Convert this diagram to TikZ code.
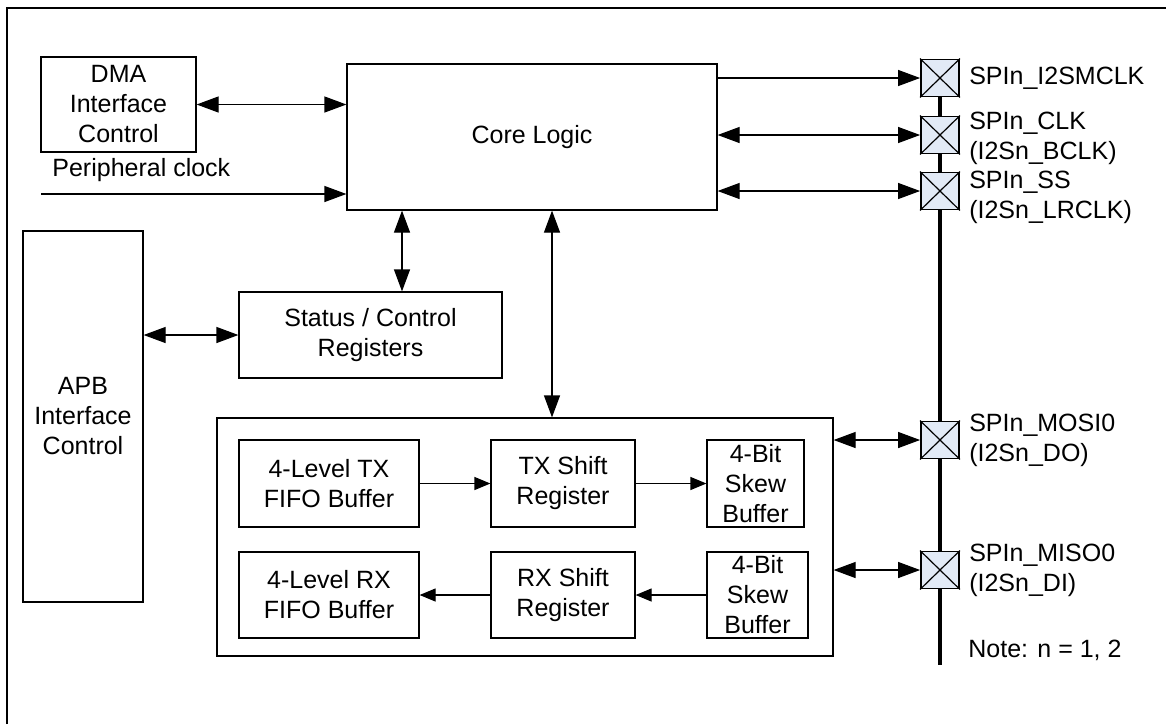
\documentclass[tikz,border=0pt]{standalone}
\usepackage{fontspec}
\setmainfont{Liberation Sans}
\usetikzlibrary{arrows.meta}
\definecolor{pinfill}{RGB}{226,234,246}

\begin{document}
\begin{tikzpicture}[x=0.5pt, y=-0.5pt,
	font=\fontsize{12.5}{15}\selectfont,
	>={Triangle[length=11pt,width=8pt]},
	blk/.style={draw, line width=0.6pt, align=center, inner sep=0pt},
	pin/.style={draw, line width=0.9pt, fill=pinfill, minimum width=19pt, minimum height=18.5pt, inner sep=0pt},
	pinlbl/.style={anchor=west, align=left, inner sep=0pt},
	sig/.style={line width=0.6pt, ->},
	bisig/.style={line width=0.6pt, <->},
	smallhead/.style={>={Triangle[length=8pt,width=6.5pt]}}]

	\useasboundingbox (0,0) rectangle (1166,724);
	% frame
	\draw[line width=1.3pt] (7,724) -- (7,8) -- (1166,8);

	% left side blocks
	\node[blk, minimum width=77.5pt, minimum height=47.5pt] (dma) at (118.5,104.5) {DMA\\Interface\\Control};
	\node[blk, minimum width=60pt, minimum height=185.5pt] (apb) at (83,416.5) {APB\\Interface\\Control};
	\node[blk, minimum width=185pt, minimum height=73pt] (core) at (532,137) {Core Logic};
	\node[blk, minimum width=131.5pt, minimum height=43pt] (stat) at (370.5,335) {Status / Control\\Registers};
	\coordinate (clkin) at (41,194);
	\node[anchor=west, inner sep=0pt] (clklbl) at (52,170) {Peripheral clock};

	% shift path
	\node[blk, minimum width=308pt, minimum height=119pt] (buf) at (525,537) {};
	\node[blk, minimum width=90pt, minimum height=43.5pt] (txfifo) at (329,483.5) {4-Level TX\\FIFO Buffer};
	\node[blk, minimum width=90pt, minimum height=43pt] (rxfifo) at (329,595) {4-Level RX\\FIFO Buffer};
	\node[blk, minimum width=72pt, minimum height=43.5pt] (txshift) at (563,483.5) {TX Shift\\Register};
	\node[blk, minimum width=72pt, minimum height=43pt] (rxshift) at (563,595) {RX Shift\\Register};
	\node[blk, minimum width=48.5pt, minimum height=43.5pt] (txskew) at (755.5,483.5) {4-Bit\\Skew\\Buffer};
	\node[blk, minimum width=50.5pt, minimum height=43pt] (rxskew) at (757.5,595) {4-Bit\\Skew\\Buffer};

	% pins
	\foreach \nm/\yy in {mclk/78, clk/135, ss/191, mosi/440, miso/570} {
		\node[pin] (\nm) at (940,\yy) {};
		\draw[line width=0.6pt] (\nm.north west) -- (\nm.south east) (\nm.north east) -- (\nm.south west);
	}
	\coordinate (busend) at (940,665);
	\draw[line width=1.8pt] (mclk.south) -- (clk.north) (clk.south) -- (ss.north)
		(ss.south) -- (mosi.north) (mosi.south) -- (miso.north) (miso.south) -- (busend);

	\node[pinlbl] (mclklbl) at ([xshift=4.5pt]mclk.east) {SPIn\_I2SMCLK};
	\node[pinlbl] (clklbl2) at ([xshift=4.5pt,yshift=-1.5pt]clk.east) {SPIn\_CLK\\(I2Sn\_BCLK)};
	\node[pinlbl] (sslbl) at ([xshift=4.5pt,yshift=-3pt]ss.east) {SPIn\_SS\\(I2Sn\_LRCLK)};
	\node[pinlbl] (mosilbl) at ([xshift=4.5pt]mosi.east) {SPIn\_MOSI0\\(I2Sn\_DO)};
	\node[pinlbl] (misolbl) at ([xshift=4.5pt]miso.east) {SPIn\_MISO0\\(I2Sn\_DI)};
	\node[pinlbl] (note) at (968,650) {Note: n = 1, 2};

	% connections
	\draw[bisig] (dma) -- (dma -| core.west);
	\draw[sig] (clkin) -- (clkin -| core.west);
	\draw[bisig] (apb.east |- stat) -- (stat);
	\draw[bisig] ([xshift=15.75pt]stat.north) -- ([xshift=15.75pt]stat.north |- core.south);
	\draw[bisig] ([xshift=13.5pt]buf.north) -- ([xshift=13.5pt]buf.north |- core.south);
	\draw[sig] (core.east |- mclk) -- (mclk);
	\draw[bisig] (core.east |- clk) -- (clk);
	\draw[bisig] (core.east |- ss) -- (ss);
	\draw[bisig] (buf.east |- mosi) -- (mosi);
	\draw[bisig] (buf.east |- miso) -- (miso);
	\draw[sig, smallhead] (txfifo) -- (txshift);
	\draw[sig, smallhead] (txshift) -- (txskew);
	\draw[sig, smallhead] (rxskew) -- (rxshift);
	\draw[sig, smallhead] (rxshift) -- (rxfifo);

\end{tikzpicture}
\end{document}
